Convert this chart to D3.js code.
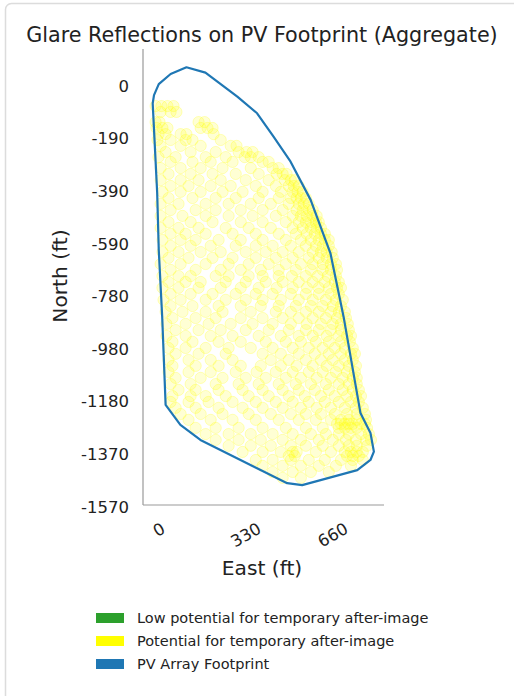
<!DOCTYPE html>
<html><head><meta charset="utf-8">
<script src="https://cdn.jsdelivr.net/npm/d3@7"></script>
<style>body{margin:0;background:#fff;font-family:"DejaVu Sans",sans-serif}</style>
</head><body><svg id="c" width="514" height="696"></svg>
<script>
const title = "Glare Reflections on PV Footprint (Aggregate)";
const xTickValues = [0, 330, 660];
const xTickLabels = ["0", "330", "660"];
const yTickValues = [0, -197, -394, -591, -788, -984, -1181, -1378, -1575];
const yTickLabels = ["0", "-190", "-390", "-590", "-780", "-980", "-1180", "-1370", "-1570"];
const footprintEast = [106,178,299,374,437,501,577,652,702,766,804,817,804,754,545,488,159,83,27,14,1,-5,-22,-17,1,46];
const footprintNorth = [70,50,-40,-102,-190,-283,-426,-625,-863,-1223,-1298,-1368,-1399,-1437,-1493,-1486,-1324,-1268,-1193,-863,-614,-400,-65,-34,7,45];
// glare reflections: rows of [north, [east values]]
const glareRows = [
[-75,[-11,11,34,57]],
[-97,[8,46,68]],
[-135,[-11,4,152,175]],
[-157,[-8,15,34,160,186,205]],
[-180,[0,27,84,106,209]],
[-202,[-4,46,103,129,236]],
[-224,[8,84,160,274,296]],
[-247,[27,122,217,304,334,357]],
[-266,[0,65,179,255,327,350,380]],
[-284,[46,129,198,281,395,418]],
[-307,[8,84,160,243,350,433,456]],
[-329,[38,122,205,293,380,448,471,486]],
[-352,[8,84,152,236,331,418,479,502,517]],
[-374,[46,114,198,274,369,445,494,513,532]],
[-396,[15,84,160,243,319,395,464,509,528,547]],
[-419,[38,129,217,293,380,456,502,524,540,559]],
[-441,[8,76,179,266,350,426,494,532,551,570]],
[-464,[46,141,217,312,395,471,524,547,570,585]],
[-486,[8,91,179,266,357,445,509,540,563,585,600]],
[-509,[38,122,205,312,395,483,532,559,578,597,608]],
[-531,[8,76,152,255,342,426,509,547,578,600,616]],
[-553,[46,103,179,281,369,456,521,562,593,616,631]],
[-576,[15,84,141,228,312,395,483,540,578,608,631,646]],
[-598,[46,122,198,293,369,433,502,559,597,623,646]],
[-621,[15,76,160,236,331,407,471,532,585,616,638,657]],
[-643,[38,114,205,281,369,445,509,570,608,638,661]],
[-666,[8,84,179,266,342,418,483,540,585,623,654,673]],
[-688,[46,141,236,312,388,456,521,578,623,654,677]],
[-711,[15,76,122,217,266,342,395,456,506,559,604,642,673]],
[-733,[38,103,160,255,331,407,471,532,585,631,669,684]],
[-755,[15,76,152,236,312,380,448,509,563,608,646,677,692]],
[-778,[46,122,205,293,369,433,502,559,608,654,684]],
[-800,[19,84,179,255,331,395,464,532,585,635,673,699]],
[-823,[46,129,228,312,388,456,521,578,623,661,692]],
[-845,[27,91,179,243,350,445,502,559,608,654,684,707]],
[-868,[53,141,217,312,395,471,532,585,635,677,711]],
[-890,[30,103,190,274,357,433,502,562,616,661,692,718]],
[-913,[65,152,236,331,418,494,559,608,654,692,722]],
[-935,[30,103,198,281,380,464,532,585,638,684,715,730]],
[-957,[53,129,228,312,407,483,540,597,646,692,726]],
[-980,[38,103,179,266,350,433,509,570,623,669,707,737]],
[-1002,[65,152,255,395,464,532,593,646,692,730,745]],
[-1025,[38,114,198,281,426,494,559,616,661,707,737]],
[-1047,[53,141,228,312,388,464,524,585,638,684,722,749]],
[-1070,[38,114,198,293,372,445,509,570,623,673,715,745]],
[-1092,[65,160,243,331,407,483,540,600,654,699,737,752]],
[-1115,[46,122,217,304,380,456,521,578,635,684,722,752]],
[-1137,[76,141,228,319,395,471,532,593,646,699,737,760]],
[-1160,[53,122,179,255,342,418,494,555,616,669,715,749,768]],
[-1182,[46,114,190,281,369,445,509,570,631,684,730,760]],
[-1204,[65,141,228,319,395,471,540,600,654,707,749,775]],
[-1227,[84,160,243,342,426,502,559,616,669,715,752,783]],
[-1249,[114,198,281,369,456,532,597,654,692,722,752,787]],
[-1264,[677,692,707,722,737,768,783]],
[-1279,[141,217,304,395,483,559,623,684,707,730,752,791]],
[-1302,[179,266,350,433,509,578,635,684,722,768,798]],
[-1324,[217,304,388,471,540,608,661,711,749,787,806]],
[-1346,[266,350,426,502,559,623,684,722,752,791]],
[-1369,[319,395,464,509,524,597,654,707,730,752,775]],
[-1384,[494,517,715,737,760]],
[-1399,[369,433,502,570,631,692,737,775]],
[-1421,[395,471,540,608,673,730]],
[-1444,[433,509,578,646]],
[-1466,[471,540]]
];
const legendLabels = ["Low potential for temporary after-image","Potential for temporary after-image","PV Array Footprint"];
const legendColors = ["#2ca02c","#ffff00","#1f77b4"];

(function(){
const svg = d3.select("#c");
svg.append("rect").attr("x",5.5).attr("y",3.5).attr("width",540).attr("height",720).attr("rx",6)
  .attr("fill","none").attr("stroke","#dcdcdc").attr("stroke-width",1.5);

const x = d3.scaleLinear().domain([0,660]).range([158.5,332.5]);
const y = d3.scaleLinear().domain([0,-1575]).range([86,507]);
const pl = 143, pr = 384, pt = 49, pb = 505;

svg.append("text").attr("x",262).attr("y",42).attr("text-anchor","middle")
  .attr("font-size",20.7).attr("fill","#222").text(title);

const pts = [];
glareRows.forEach(([n, es]) => es.forEach(e => pts.push([e, n])));
svg.append("g").selectAll("circle").data(pts).join("circle")
  .attr("cx",d=>x(d[0])).attr("cy",d=>y(d[1])).attr("r",5.6)
  .attr("fill","#ffff00").attr("fill-opacity",0.17)
  .attr("stroke","#ffff00").attr("stroke-opacity",0.25).attr("stroke-width",1);

const poly = footprintEast.map((e,i)=>[x(e), y(footprintNorth[i])]);
svg.append("path").attr("d", d3.line().curve(d3.curveLinearClosed)(poly))
  .attr("fill","none").attr("stroke","#1f77b4").attr("stroke-width",2.2).attr("stroke-linejoin","round");

svg.append("line").attr("x1",pl).attr("x2",pl).attr("y1",pt).attr("y2",pb).attr("stroke","#999").attr("stroke-width",1.2);
svg.append("line").attr("x1",pl).attr("x2",pr).attr("y1",pb).attr("y2",pb).attr("stroke","#999").attr("stroke-width",1.2);

const yAxis = d3.axisLeft(y).tickValues(yTickValues).tickFormat((d,i)=>yTickLabels[i]).tickSize(0).tickPadding(0);
const gy = svg.append("g").attr("transform",`translate(129,0)`).call(yAxis);
gy.select(".domain").remove();
gy.selectAll("text").attr("font-size",16.5).attr("fill","#222").attr("font-family","DejaVu Sans");

const xAxis = d3.axisBottom(x).tickValues(xTickValues).tickFormat((d,i)=>xTickLabels[i]).tickSize(0);
const gx = svg.append("g").attr("transform",`translate(0,${pb})`).call(xAxis);
gx.select(".domain").remove();
gx.selectAll("text").attr("font-size",16.5).attr("fill","#222").attr("font-family","DejaVu Sans")
  .attr("dy",null).attr("y",0).attr("text-anchor","middle").attr("dominant-baseline","central")
  .each(function(){
    const w = this.getComputedTextLength();
    const h = 12;
    const cy = 17 + (w*0.5 + h*0.866)/2;
    d3.select(this).attr("transform",`translate(0,${cy}) rotate(-30)`);
  });

svg.append("text").attr("x",262).attr("y",575).attr("text-anchor","middle").attr("font-size",20.2).attr("fill","#222").text("East (ft)");
svg.append("text").attr("transform","translate(67,276) rotate(-90)").attr("text-anchor","middle").attr("font-size",20.2).attr("fill","#222").text("North (ft)");

const lg = svg.append("g");
legendLabels.forEach((t,i)=>{
  const cy = 618 + i*23;
  lg.append("rect").attr("x",96).attr("y",cy-5).attr("width",28).attr("height",10).attr("fill",legendColors[i]);
  lg.append("text").attr("x",137).attr("y",cy).attr("dominant-baseline","central").attr("font-size",14.5).attr("fill","#222").text(t);
});
})();
</script></body></html>
